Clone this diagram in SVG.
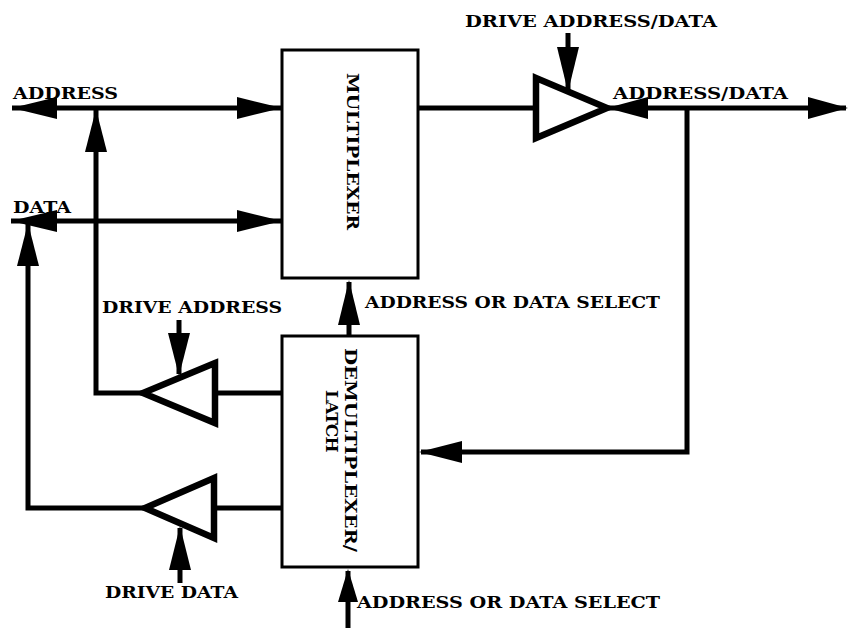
<svg xmlns="http://www.w3.org/2000/svg" width="848" height="628" viewBox="0 0 848 628">
<style>
.ln{fill:none;stroke:#000;stroke-width:5;stroke-linejoin:miter;stroke-linecap:butt}
.ah{fill:#000;stroke:none}
.box{fill:#fff;stroke:#000;stroke-width:3}
.buf{fill:#fff;stroke:#000;stroke-width:6.5;stroke-linejoin:miter}
.t{font-family:"DejaVu Serif","Liberation Serif",serif;font-weight:bold;font-size:17px;fill:#000}
</style>
<rect width="848" height="628" fill="#fff"/>
<g id="connectors">
<path class="ln" d="M12,108 H282"/>
<path class="ln" d="M11,221 H282"/>
<path class="ln" d="M143,393 H96 V110"/>
<path class="ln" d="M145,508 H28 V224"/>
<path class="ln" d="M215,393 H282"/>
<path class="ln" d="M214,508 H282"/>
<path class="ln" d="M418,108 H536"/>
<path class="ln" d="M607,108 H846"/>
<path class="ln" d="M687,108 V452 H421"/>
<path class="ln" d="M568,33 V90"/>
<path class="ln" d="M179,320 V374"/>
<path class="ln" d="M180,528 V583"/>
<path class="ln" d="M349,282 V336"/>
<path class="ln" d="M348,571 V628"/>
<polygon class="ah" points="12,108 57,97 57,119"/>
<polygon class="ah" points="282,108 237,97 237,119"/>
<polygon class="ah" points="96,109 85,152 107,152"/>
<polygon class="ah" points="11,221 57,210 57,232"/>
<polygon class="ah" points="282,221 237,210 237,232"/>
<polygon class="ah" points="28,223 17,266 39,266"/>
<polygon class="ah" points="568,92 557,47 579,47"/>
<polygon class="ah" points="607,108 648,97 648,119"/>
<polygon class="ah" points="848,108 808,97 808,119"/>
<polygon class="ah" points="349,280 338,325 360,325"/>
<polygon class="ah" points="419,452 462,441 462,463"/>
<polygon class="ah" points="179,376 168,333 190,333"/>
<polygon class="ah" points="180,526 169,570 191,570"/>
<polygon class="ah" points="348,569 338,602 358,602"/>
</g>
<g id="multiplexer">
<rect class="box" x="282" y="50" width="136" height="228"/>
<text class="t" transform="translate(347,73) rotate(90)" textLength="157" lengthAdjust="spacingAndGlyphs">MULTIPLEXER</text>
</g>
<g id="demultiplexer">
<rect class="box" x="282" y="336" width="136" height="231"/>
<text class="t" transform="translate(345,348) rotate(90)" textLength="204" lengthAdjust="spacingAndGlyphs">DEMULTIPLEXER/</text>
<text class="t" transform="translate(326,390) rotate(90)" letter-spacing="-1">LATCH</text>
</g>
<g id="buffer-address-data">
<polygon class="buf" points="536,78 607,108 536,138"/>
</g>
<g id="buffer-address">
<polygon class="buf" points="215,363 143,393 215,423"/>
</g>
<g id="buffer-data">
<polygon class="buf" points="214,478 145,508 214,538"/>
</g>
<g id="labels">
<text class="t" x="13" y="99" textLength="105" lengthAdjust="spacingAndGlyphs">ADDRESS</text>
<text class="t" x="13" y="213" textLength="58" lengthAdjust="spacingAndGlyphs">DATA</text>
<text class="t" x="465" y="27" textLength="252" lengthAdjust="spacingAndGlyphs">DRIVE ADDRESS/DATA</text>
<text class="t" x="613" y="99" textLength="175" lengthAdjust="spacingAndGlyphs">ADDRESS/DATA</text>
<text class="t" x="102" y="313" textLength="180" lengthAdjust="spacingAndGlyphs">DRIVE ADDRESS</text>
<text class="t" x="365" y="308" textLength="295" lengthAdjust="spacingAndGlyphs">ADDRESS OR DATA SELECT</text>
<text class="t" x="357" y="608" textLength="303" lengthAdjust="spacingAndGlyphs">ADDRESS OR DATA SELECT</text>
<text class="t" x="105" y="598" textLength="133" lengthAdjust="spacingAndGlyphs">DRIVE DATA</text>
</g>
</svg>
